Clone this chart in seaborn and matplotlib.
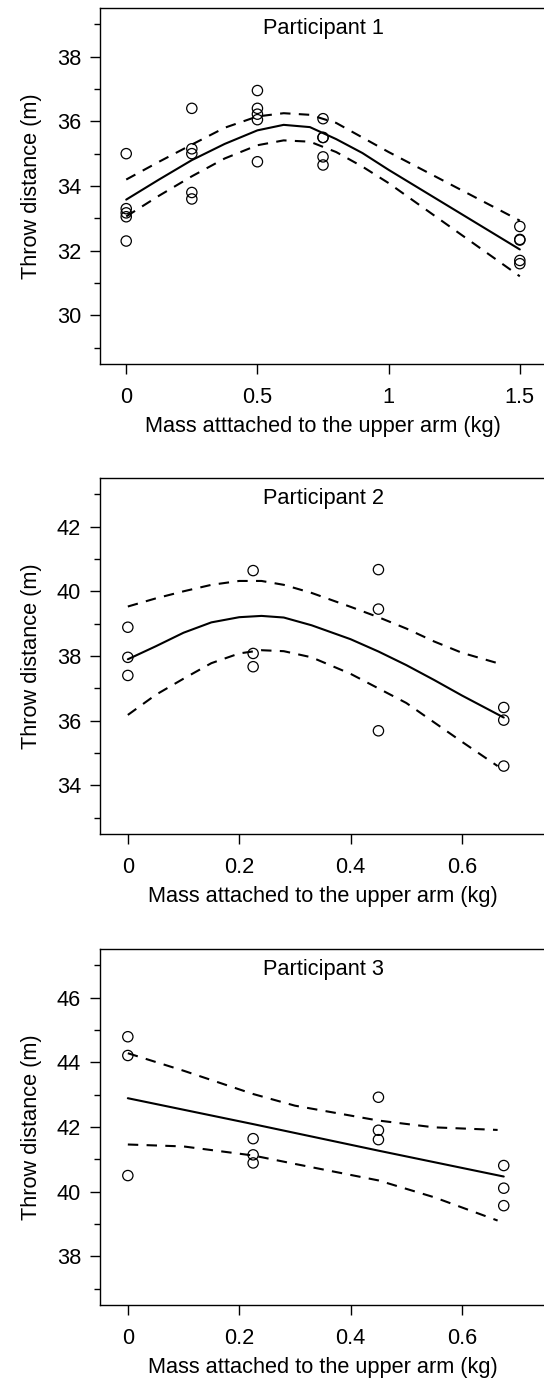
import numpy as np
import pandas as pd
import seaborn as sns
import matplotlib.pyplot as plt
from matplotlib.ticker import MultipleLocator

# ---- data ----
# Participant 1
p1_mass = [0, 0, 0, 0, 0,
           0.25, 0.25, 0.25, 0.25, 0.25,
           0.5, 0.5, 0.5, 0.5, 0.5,
           0.75, 0.75, 0.75, 0.75, 0.75,
           1.5, 1.5, 1.5, 1.5, 1.5]
p1_dist = [35.0, 33.3, 33.17, 33.05, 32.3,
           36.4, 35.15, 35.0, 33.8, 33.6,
           36.95, 36.4, 36.22, 36.05, 34.75,
           36.08, 35.5, 35.5, 34.9, 34.65,
           32.75, 32.35, 32.33, 31.7, 31.6]
p1_fit_x = [0, 0.125, 0.25, 0.375, 0.5, 0.6, 0.7, 0.8, 0.9, 1.0, 1.25, 1.5]
p1_fit = [33.58, 34.2, 34.8, 35.3, 35.72, 35.89, 35.82, 35.45, 35.02, 34.5, 33.27, 32.04]
p1_upper = [34.2, 34.75, 35.28, 35.8, 36.15, 36.25, 36.2, 35.95, 35.5, 35.05, 33.99, 32.93]
p1_lower = [33.06, 33.7, 34.3, 34.85, 35.26, 35.41, 35.37, 35.05, 34.6, 34.09, 32.65, 31.21]

# Participant 2
p2_mass = [0, 0, 0, 0.225, 0.225, 0.225, 0.45, 0.45, 0.45, 0.675, 0.675, 0.675]
p2_dist = [38.89, 37.96, 37.40, 40.64, 38.08, 37.67, 40.67, 39.45, 35.69, 36.41, 36.02, 34.6]
p2_fit_x = [0, 0.05, 0.1, 0.15, 0.2, 0.24, 0.28, 0.33, 0.4, 0.45, 0.5, 0.55, 0.6, 0.675]
p2_fit = [37.9, 38.3, 38.72, 39.04, 39.2, 39.24, 39.19, 38.95, 38.52, 38.14, 37.72, 37.26, 36.78, 36.1]
p2_band_x = [0, 0.05, 0.1, 0.15, 0.2, 0.24, 0.28, 0.33, 0.4, 0.45, 0.5, 0.55, 0.6, 0.664]
p2_upper = [39.53, 39.78, 40.0, 40.2, 40.32, 40.32, 40.2, 39.95, 39.52, 39.2, 38.85, 38.45, 38.1, 37.78]
p2_lower = [36.18, 36.8, 37.3, 37.78, 38.08, 38.18, 38.15, 37.96, 37.45, 37.0, 36.55, 35.95, 35.35, 34.6]

# Participant 3
p3_mass = [0, 0, 0, 0.225, 0.225, 0.225, 0.45, 0.45, 0.45, 0.675, 0.675, 0.675]
p3_dist = [44.79, 44.21, 40.5, 41.64, 41.14, 40.89, 42.92, 41.9, 41.61, 40.81, 40.11, 39.57]
p3_fit_x = [0, 0.225, 0.45, 0.675]
p3_fit = [42.89, 42.09, 41.27, 40.47]
p3_band_x = [0, 0.1, 0.225, 0.3, 0.45, 0.55, 0.664]
p3_upper = [44.28, 43.74, 43.02, 42.66, 42.2, 41.99, 41.91]
p3_lower = [41.46, 41.4, 41.12, 40.86, 40.35, 39.83, 39.11]

titles = ["Participant 1", "Participant 2", "Participant 3"]
xlabels = ["Mass atttached to the upper arm (kg)",
           "Mass attached to the upper arm (kg)",
           "Mass attached to the upper arm (kg)"]
ylabel = "Throw distance (m)"
xticks = [[0, 0.5, 1, 1.5], [0, 0.2, 0.4, 0.6], [0, 0.2, 0.4, 0.6]]
xticklabels = [["0", "0.5", "1", "1.5"], ["0", "0.2", "0.4", "0.6"], ["0", "0.2", "0.4", "0.6"]]
xlims = [(-0.1, 1.6), (-0.05, 0.751), (-0.05, 0.751)]
ylims = [(28.5, 39.5), (32.5, 43.5), (36.5, 47.5)]

panels = [
    (p1_mass, p1_dist, p1_fit_x, p1_fit, p1_fit_x, p1_upper, p1_lower),
    (p2_mass, p2_dist, p2_fit_x, p2_fit, p2_band_x, p2_upper, p2_lower),
    (p3_mass, p3_dist, p3_fit_x, p3_fit, p3_band_x, p3_upper, p3_lower),
]

sns.set_style("white")
plt.rcParams['font.family'] = ['Liberation Sans', 'DejaVu Sans']
plt.rcParams['text.color'] = 'black'
plt.rcParams['axes.labelcolor'] = 'black'
plt.rcParams['xtick.color'] = 'black'
plt.rcParams['ytick.color'] = 'black'

fig = plt.figure(figsize=(5.44, 13.82), dpi=100)
bottoms = [0.7366, 0.3965, 0.0557]
fs = 15.7

for i, (mass, dist, fx, fy, bx, up, lo) in enumerate(panels):
    ax = fig.add_axes([0.1838, bottoms[i], 0.82, 0.2576])
    pts = pd.DataFrame({'mass': mass, 'dist': dist})
    sns.scatterplot(data=pts, x='mass', y='dist', ax=ax, s=55, marker='o',
                    facecolors='none', edgecolor='black', linewidth=0.9)
    sns.lineplot(x=fx, y=fy, ax=ax, color='black', lw=1.5, sort=False)
    sns.lineplot(x=bx, y=up, ax=ax, color='black', lw=1.5, sort=False,
                 linestyle=(0, (5, 4)))
    sns.lineplot(x=bx, y=lo, ax=ax, color='black', lw=1.5, sort=False,
                 linestyle=(0, (5, 4)))

    ax.set_xlim(*xlims[i])
    ax.set_ylim(*ylims[i])
    ax.set_xticks(xticks[i])
    ax.set_xticklabels(xticklabels[i])
    ax.yaxis.set_major_locator(MultipleLocator(2))
    ax.yaxis.set_minor_locator(MultipleLocator(1))
    ax.tick_params(axis='both', which='major', direction='out', length=7.5,
                   width=1, labelsize=fs, colors='black', left=True, bottom=True)
    ax.tick_params(axis='y', which='minor', direction='out', length=4, width=1,
                   left=True, color='black')
    ax.tick_params(axis='x', which='major', pad=9)
    ax.tick_params(axis='y', which='major', pad=6)
    for sp in ax.spines.values():
        sp.set_color('black')
        sp.set_linewidth(1.0)
    ax.set_xlabel(xlabels[i], fontsize=fs, labelpad=6, color='black')
    ax.set_ylabel(ylabel, fontsize=fs, labelpad=11, color='black')
    ax.text(0.5, 1 - 20 / 356, titles[i], transform=ax.transAxes,
            ha='center', va='center', fontsize=fs, color='black')

fig.savefig('out.png', dpi=100)
